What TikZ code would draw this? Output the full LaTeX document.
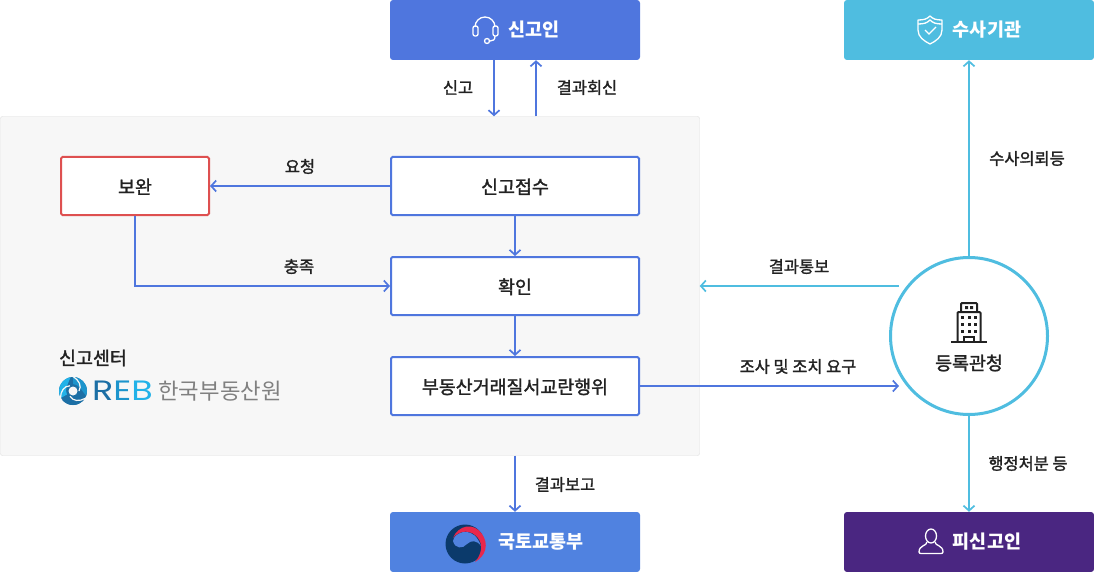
\documentclass[tikz,border=0pt]{standalone}
\usepackage{fontspec}
\setmainfont{Noto Sans CJK KR}[FakeBold=1.6, BoldFeatures={FakeBold=0}]
\newfontfamily\logofont{Poppins}
\newfontfamily\plainfont{Noto Sans CJK KR}
\usetikzlibrary{arrows.meta}
\definecolor{blueline}{HTML}{4F76DE}
\definecolor{cyanline}{HTML}{4FBDE0}
\definecolor{redline}{HTML}{DE5050}
\definecolor{ministryblue}{HTML}{5082E0}
\definecolor{accusedpurple}{HTML}{4A2681}
\definecolor{panelgray}{HTML}{F7F7F7}
\definecolor{panelline}{HTML}{DDDDDD}
\definecolor{labelblack}{HTML}{222222}
\definecolor{emblemdark}{HTML}{0B3A6B}
\definecolor{emblemred}{HTML}{E8274B}
\definecolor{rebdark}{HTML}{1C6FA5}
\definecolor{rebmid}{HTML}{1C94CC}
\definecolor{reblight}{HTML}{22B2E8}
\tikzset{
	panelbox/.style={draw=panelline, fill=panelgray, rounded corners=2pt, minimum width=699pt, minimum height=339pt, inner sep=0pt},
	headbox/.style={rounded corners=3pt, minimum width=250pt, minimum height=60pt, inner sep=0pt},
	headtext/.style={text=white, font=\fontsize{18.5}{18.5}\selectfont\bfseries},
	stepbox/.style={draw=blueline, line width=2pt, fill=white, rounded corners=1.5pt, minimum width=248pt, minimum height=58pt, inner sep=0pt, text=labelblack, font=\fontsize{18.4}{18.4}\selectfont, text height=18pt, text depth=2.5pt},
	flowblue/.style={draw=blueline, line width=1.7pt, -{Straight Barb[length=5pt,width=11pt,line width=1.7pt]}},
	flowcyan/.style={draw=cyanline, line width=1.7pt, -{Straight Barb[length=5pt,width=11pt,line width=1.7pt]}},
	flowlabel/.style={text=labelblack, font=\fontsize{16.4}{16.4}\selectfont},
	iconline/.style={draw=white, line width=1.3pt},
	darkicon/.style={draw=labelblack, line width=2pt},
}
\begin{document}
\begin{tikzpicture}[x=1pt, y=-1pt]
		\useasboundingbox (0,0) rectangle (1094,572);
		%panel
		\node[panelbox] (panel) at (350,286){};

		%top and bottom boxes
		\node[headbox, fill=blueline] (reporter) at (515,30){};
		\node[headtext] (reportertext) at (534,29.5){신고인};
		\node[headbox, fill=cyanline] (agency) at (969,30){};
		\node[headtext] (agencytext) at (987,29.5){수사기관};
		\node[headbox, fill=ministryblue] (ministry) at (515,542){};
		\node[headtext] (ministrytext) at (541,542){국토교통부};
		\node[headbox, fill=accusedpurple] (accused) at (969,542){};
		\node[headtext] (accusedtext) at (987,541.5){피신고인};

		%steps
		\node[stepbox, draw=redline, minimum width=148pt] (complement) at (135,186){보완};
		\node[stepbox] (receipt) at (515,186){신고접수};
		\node[stepbox] (confirm) at (515,286){확인};
		\node[stepbox] (trade) at (515,386){부동산거래질서교란행위};
		\node[circle, draw=cyanline, line width=3pt, fill=white, minimum size=157pt, inner sep=0pt] (office) at (969,336){};
		\node[text=labelblack, font=\fontsize{18.4}{18.4}\selectfont] (officetext) at (969,363){등록관청};

		%connectors
		\draw[flowblue] ([xshift=-21pt]reporter.south) -- ([xshift=-21pt]reporter.south |- panel.north);
		\draw[flowblue] ([xshift=21pt]reporter.south |- panel.north) -- ([xshift=21pt]reporter.south);
		\draw[flowblue] (receipt.west) -- (complement.east);
		\draw[flowblue] (complement.south) |- (confirm.west);
		\draw[flowblue] (receipt.south) -- (confirm.north);
		\draw[flowblue] (confirm.south) -- (trade.north);
		\draw[flowblue] (ministry |- panel.south) -- (ministry.north);
		\coordinate (officeout) at (899,286);
		\coordinate (officein) at (899,386);
		\draw[flowblue] (trade.east) -- (officein);
		\draw[flowcyan] (officeout) -- (officeout -| panel.east);
		\draw[flowcyan] (office.north) -- (agency.south);
		\draw[flowcyan] (office.south) -- (accused.north);

		%labels
		\node[flowlabel] (l1) at (458,87.5){신고};
		\node[flowlabel] (l2) at (587,87.5){결과회신};
		\node[flowlabel] (l3) at (300,166.5){요청};
		\node[flowlabel] (l4) at (299,266.5){충족};
		\node[flowlabel] (l5) at (799,266.5){결과통보};
		\node[flowlabel] (l6) at (798,366.5){조사 및 조치 요구};
		\node[flowlabel] (l7) at (1027,158.5){수사의뢰등};
		\node[flowlabel] (l8) at (1028,463.5){행정처분 등};
		\node[flowlabel] (l9) at (565,484.5){결과보고};
		\node[text=labelblack, font=\fontsize{18.4}{18.4}\selectfont] (center) at (93,358){신고센터};
		\node[text=gray, font=\plainfont\fontsize{22.3}{22.3}\selectfont] (reb) at (220,391){한국부동산원};
		\node[font=\logofont\fontsize{28}{28}\selectfont, inner sep=0pt] (rebmark) at (122.5,391){\scalebox{1.25}[1]{\textcolor{rebdark}{R}\textcolor{rebmid}{E}\textcolor{reblight}{B}}};

		%logo swirl
		\fill[rebdark] (73,391) circle (14);
		\foreach \a/\c in {0/rebmid, 120/reblight, 240/rebdark}{
			\fill[\c, rotate around={\a:(73,391)}] (73,377) arc (-90:20:14) .. controls (82,391) and (79,384) .. (73,384) -- cycle;
			\draw[panelgray, line width=1.2pt, rotate around={\a:(73,391)}] (73,376.5) .. controls (79,380) and (82,386) .. (79,391);
		}
		\fill[panelgray] (73,391) circle (4.5);

		%headset
		\draw[iconline] (475,27) arc (180:360:10 and 10);
		\draw[iconline, rounded corners=2pt] (473,26) rectangle (478,36);
		\draw[iconline, rounded corners=2pt] (493,26) rectangle (498,36);
		\draw[iconline] (495,36) .. controls (495,40) and (493,41) .. (490,41);
		\draw[iconline] (487,41) circle (2.5);

		%shield
		\draw[iconline, line join=round] (918,20) .. controls (924,20) and (927,19) .. (930,16) .. controls (933,19) and (936,20) .. (942,20) -- (942,30) .. controls (942,37) and (936,41) .. (930,44) .. controls (924,41) and (918,37) .. (918,30) -- cycle;
		\draw[iconline] (918,24) .. controls (924,24) and (927,23) .. (930,20) .. controls (933,23) and (936,24) .. (942,24);
		\draw[iconline] (925,30) -- (929,34) -- (936,27);

		%building
		\draw[darkicon, rounded corners=1pt] (961,311) -- (961,303) -- (977,303) -- (977,311);
		\draw[darkicon, rounded corners=1pt] (957.5,342) -- (957.5,312) -- (980.5,312) -- (980.5,342);
		\draw[darkicon] (951,342) -- (987,342);
		\draw[darkicon] (964,342) -- (964,337) -- (974,337) -- (974,342);
		\fill[labelblack] (965,306) rectangle (968,309) (970,306) rectangle (973,309);
		\foreach \x in {962.5,969,975.5}{
			\foreach \y in {317,324,331}{
				\fill[labelblack] (\x-1.5,\y-1.5) rectangle (\x+1.5,\y+1.5);
			}
		}

		%person
		\draw[iconline] (931,536) ellipse (5.5 and 7);
		\draw[iconline, line join=round] (927,542) .. controls (927,546) and (919,545) .. (919,552) .. controls (919,553) and (920,553.5) .. (921,553.5) -- (941,553.5) .. controls (942,553.5) and (943,553) .. (943,552) .. controls (943,545) and (935,546) .. (935,542);

		%emblem
		\fill[emblemdark] (465,544) circle (19.5);
		\fill[ministryblue] (454,538) .. controls (458,531) and (474,526) .. (481,546) .. controls (477,540) and (471,540) .. (467,544) .. controls (463,549) and (455,549) .. (453,541) -- cycle;
		\fill[ministryblue] (483,540) .. controls (487,548) and (485,558) .. (476,563) .. controls (481,556) and (484,548) .. (483,540) -- cycle;
		\fill[emblemred] (453,538) .. controls (458,525) and (474,522) .. (482,534) .. controls (489,544) and (486,556) .. (475,562) .. controls (482,554) and (483,544) .. (478,538) .. controls (472,530) and (460,529) .. (453,538) -- cycle;
		\end{tikzpicture}
\end{document}
